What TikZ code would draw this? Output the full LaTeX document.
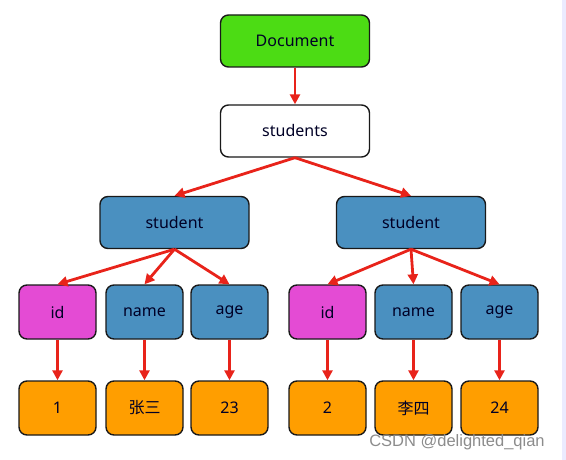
\documentclass[tikz,border=0pt]{standalone}
\usepackage{fontspec}
\setmainfont{Noto Sans}
\newfontfamily\cjk{Noto Sans CJK SC}
\newfontfamily\wmfont{Liberation Sans}
\usetikzlibrary{arrows.meta}
\definecolor{docgreen}{RGB}{76,220,20}
\definecolor{elblue}{RGB}{74,144,192}
\definecolor{idpink}{RGB}{228,75,212}
\definecolor{valorange}{RGB}{255,158,0}
\definecolor{arrred}{RGB}{232,35,26}
\newcommand{\tg}[1]{\textcolor{black!85!blue}{#1}}

\begin{document}
\begin{tikzpicture}
  [x=1pt,y=-1pt,
   box/.style={draw=black!90,line width=1.4pt,rounded corners=8pt,
     minimum width=149pt,minimum height=52pt,font=\fontsize{16}{18}\selectfont},
   leaf/.style={box,minimum width=77pt,minimum height=54pt},
   arr/.style={draw=arrred,line width=2.8pt,-{Triangle[width=10pt,length=10pt]}}]
  \useasboundingbox (0,0) rectangle (566,460);
  \fill[blue!8] (562,0) rectangle (566,460);

  \node[box,fill=docgreen] (doc) at (295,41)  {\tg{Document}};
  \node[box,fill=white]    (sts) at (295,131) {\tg{students}};
  \node[box,fill=elblue] (stu1) at (174.5,222.5) {\tg{student}};
  \node[box,fill=elblue] (stu2) at (411,222.5)   {\tg{student}};

  \node[leaf,fill=idpink] (id1)   at (57.5,312)  {\tg{id}};
  \node[leaf,fill=elblue] (name1) at (144.5,312) {\tg{name}};
  \node[leaf,fill=elblue] (age1)  at (229.5,312) {\tg{age}};
  \node[leaf,fill=idpink] (id2)   at (327.5,312) {\tg{id}};
  \node[leaf,fill=elblue] (name2) at (413.5,312) {\tg{name}};
  \node[leaf,fill=elblue] (age2)  at (499.5,312) {\tg{age}};

  \node[leaf,fill=valorange] (v1) at (57.5,408)  {\tg{1}};
  \node[leaf,fill=valorange] (v2) at (144.5,408) {\tg{\cjk 张三}};
  \node[leaf,fill=valorange] (v3) at (229.5,408) {\tg{23}};
  \node[leaf,fill=valorange] (v4) at (327.5,408) {\tg{2}};
  \node[leaf,fill=valorange] (v5) at (413.5,408) {\tg{\cjk 李四}};
  \node[leaf,fill=valorange] (v6) at (499.5,408) {\tg{24}};

  \foreach \from/\to in {doc/sts,sts/stu1,sts/stu2,stu1/id1,stu1/name1,stu1/age1,stu2/id2,stu2/name2,stu2/age2,id1/v1,name1/v2,age1/v3,id2/v4,name2/v5,age2/v6}
    \draw[arr] (\from.south) -- (\to.north);

  \node[text=black!45,font=\wmfont\fontsize{16.5}{18}\selectfont] (mark) at (457,442) {CSDN @delighted\_qian};
\end{tikzpicture}
\end{document}
